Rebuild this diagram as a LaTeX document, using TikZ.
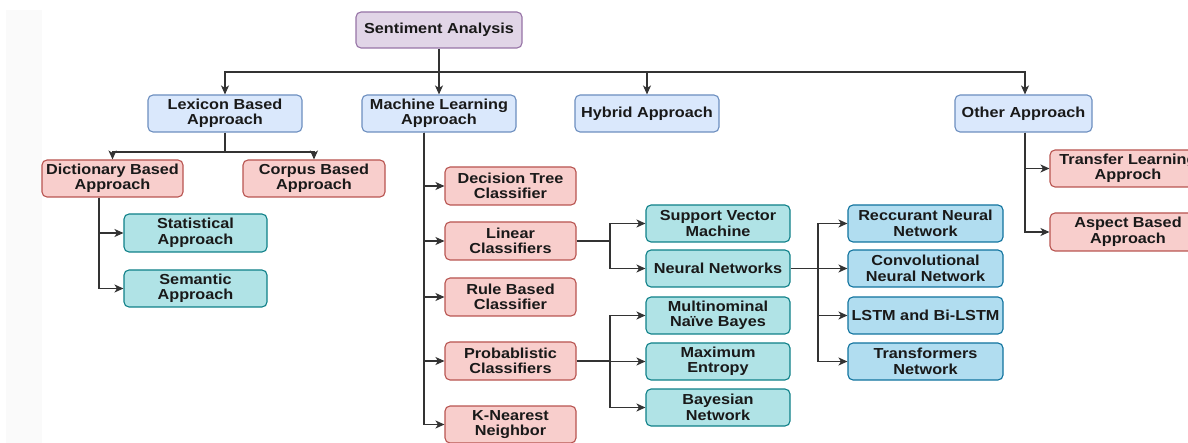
\documentclass[tikz,border=0pt]{standalone}
\usepackage{fontspec}
\setmainfont{Liberation Sans}[FakeStretch=1.12]
\usetikzlibrary{arrows.meta}
\definecolor{pfill}{HTML}{E1D5E7}\definecolor{pline}{HTML}{9673A6}
\definecolor{bfill}{HTML}{DAE8FC}\definecolor{bline}{HTML}{6C8EBF}
\definecolor{rfill}{HTML}{F8CECC}\definecolor{rline}{HTML}{B85450}
\definecolor{tfill}{HTML}{B0E3E6}\definecolor{tline}{HTML}{0E8088}
\definecolor{lfill}{HTML}{B1DDF0}\definecolor{lline}{HTML}{10739E}
\definecolor{conn}{HTML}{333333}
\definecolor{strip}{HTML}{FAFAFA}
\tikzset{
  box/.style={rounded corners=5pt, line width=1.1pt, align=center, inner sep=0pt,
    font=\fontsize{14.5}{15.5}\selectfont\bfseries, text={black!90}},
  purplebox/.style={box, fill=pfill, draw=pline},
  bluebox/.style={box, fill=bfill, draw=bline},
  redbox/.style={box, fill=rfill, draw=rline},
  tealbox/.style={box, fill=tfill, draw=tline},
  skybox/.style={box, fill=lfill, draw=lline},
  arr/.style={draw=conn, line width=1.2pt, -{Stealth[length=9pt,width=8pt,inset=2.5pt]}},
  ln/.style={draw=conn, line width=1.2pt},
}
\begin{document}
\begin{tikzpicture}[x=1pt,y=-1pt]
\useasboundingbox (0,0) rectangle (1188,443);
\clip (0,0) rectangle (1188,443);
\fill[strip] (6,10) rectangle (42,443);

\node[purplebox, minimum width=166pt, minimum height=36pt] (sa) at (439,30) {Sentiment Analysis};

\node[bluebox, minimum width=154pt, minimum height=37pt] (lex) at (225,113.5) {Lexicon Based\\Approach};
\node[bluebox, minimum width=154pt, minimum height=37pt] (ml) at (439,113.5) {Machine Learning\\Approach};
\node[bluebox, minimum width=144pt, minimum height=37pt] (hyb) at (647,113.5) {Hybrid Approach};
\node[bluebox, minimum width=137pt, minimum height=37pt] (oth) at (1023.5,113.5) {Other Approach};

\node[redbox, minimum width=141pt, minimum height=37pt] (dict) at (112.5,178.5) {Dictionary Based\\Approach};
\node[redbox, minimum width=142pt, minimum height=37pt] (corp) at (314,178.5) {Corpus Based\\Approach};

\node[tealbox, minimum width=143pt, minimum height=38pt] (stat) at (195.5,233) {Statistical\\Approach};
\node[tealbox, minimum width=143pt, minimum height=37pt] (sem) at (195.5,288.5) {Semantic\\Approach};

\node[redbox, minimum width=131pt, minimum height=38pt] (dt) at (510.5,186) {Decision Tree\\Classifier};
\node[redbox, minimum width=131pt, minimum height=38pt] (lin) at (510.5,241) {Linear\\Classifiers};
\node[redbox, minimum width=131pt, minimum height=38pt] (rule) at (510.5,297) {Rule Based\\Classifier};
\node[redbox, minimum width=131pt, minimum height=38pt] (prob) at (510.5,361) {Probablistic\\Classifiers};
\node[redbox, minimum width=131pt, minimum height=37pt] (knn) at (510.5,424.5) {K-Nearest\\Neighbor};

\node[tealbox, minimum width=144pt, minimum height=37pt] (svm) at (718,223.5) {Support Vector\\Machine};
\node[tealbox, minimum width=144pt, minimum height=37pt] (nn) at (718,268.5) {Neural Networks};
\node[tealbox, minimum width=144pt, minimum height=37pt] (mnb) at (718,315.5) {Multinominal\\Naïve Bayes};
\node[tealbox, minimum width=144pt, minimum height=37pt] (me) at (718,361.5) {Maximum\\Entropy};
\node[tealbox, minimum width=144pt, minimum height=37pt] (bn) at (718,407.5) {Bayesian\\Network};

\node[skybox, minimum width=155pt, minimum height=37pt] (rnn) at (925.5,223.5) {Reccurant Neural\\Network};
\node[skybox, minimum width=155pt, minimum height=37pt] (cnn) at (925.5,268.5) {Convolutional\\Neural Network};
\node[skybox, minimum width=155pt, minimum height=37pt] (lstm) at (925.5,315.5) {LSTM and Bi-LSTM};
\node[skybox, minimum width=155pt, minimum height=37pt] (tr) at (925.5,361.5) {Transformers\\Network};

\node[redbox, minimum width=156pt, minimum height=37pt] (tl) at (1128,168.5) {Transfer Learning\\Approch};
\node[redbox, minimum width=156pt, minimum height=38pt] (asp) at (1128,232) {Aspect Based\\Approach};

% top level
\coordinate (j1) at (439,72);
\draw[arr] (sa) -- (ml);
\draw[arr] (j1) -| (lex);
\draw[arr] (j1) -| (hyb);
\draw[arr] (j1) -| ([xshift=1.5pt]oth.north);

% lexicon
\coordinate (j2) at (225,152);
\draw[ln] (lex) -- (j2);
\draw[arr] (j2) -| (dict);
\draw[arr] (j2) -| (corp);

% dictionary
\draw[arr] ([xshift=-13.5pt]dict.south) |- (stat.west);
\draw[arr] ([xshift=-13.5pt]dict.south) |- (sem.west);

% machine learning
\draw[arr] ([xshift=-15pt]ml.south) |- (dt.west);
\draw[arr] ([xshift=-15pt]ml.south) |- (lin.west);
\draw[arr] ([xshift=-15pt]ml.south) |- (rule.west);
\draw[arr] ([xshift=-15pt]ml.south) |- (prob.west);
\draw[arr] ([xshift=-15pt]ml.south) |- (knn.west);

% linear
\coordinate (j3) at (610,241);
\draw[ln] (lin) -- (j3);
\draw[arr] (j3) |- (svm.west);
\draw[arr] (j3) |- (nn.west);

% probabilistic
\coordinate (j5) at (610,361);
\draw[ln] (prob) -- (j5);
\draw[arr] (j5) |- (mnb.west);
\draw[arr] (j5) |- (me.west);
\draw[arr] (j5) |- (bn.west);

% neural networks
\coordinate (j4) at (818,268.5);
\draw[arr] (nn) -- (cnn);
\draw[arr] (j4) |- (rnn.west);
\draw[arr] (j4) |- (lstm.west);
\draw[arr] (j4) |- (tr.west);

% other
\draw[arr] ([xshift=1.5pt]oth.south) |- (tl.west);
\draw[arr] ([xshift=1.5pt]oth.south) |- (asp.west);
\end{tikzpicture}
\end{document}
